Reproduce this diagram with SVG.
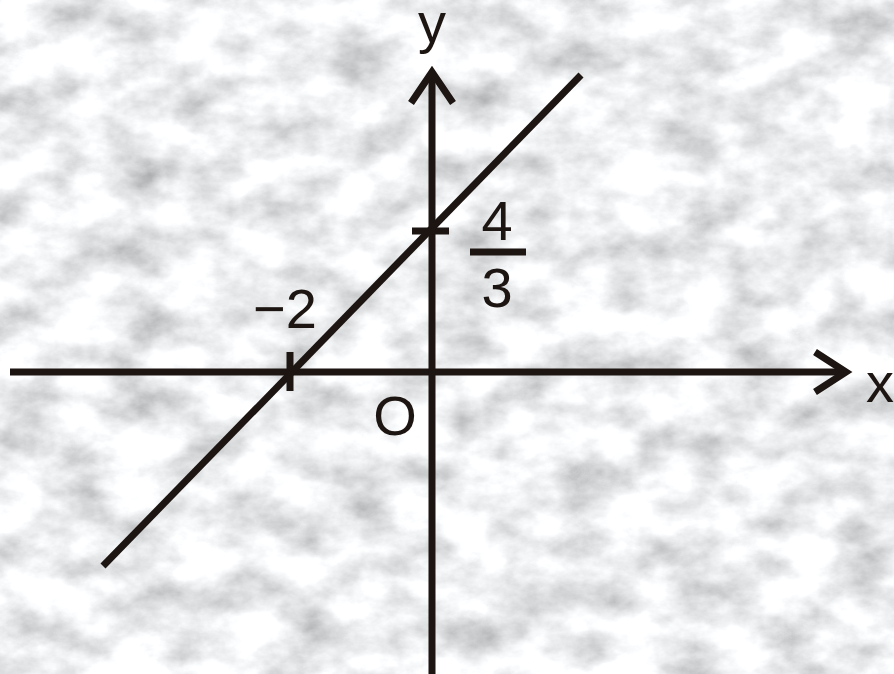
<svg xmlns="http://www.w3.org/2000/svg" width="894" height="674" viewBox="0 0 894 674">
<style>
.ax{stroke:#1c1512;stroke-width:7;fill:none}
.t{font-family:"Liberation Sans",Arial,sans-serif;font-size:56px;fill:#1c1512}
</style>
<defs>
<filter id="marble" x="0" y="0" width="100%" height="100%">
<feTurbulence type="fractalNoise" baseFrequency="0.018 0.026" numOctaves="6" seed="11" result="n"/>
<feColorMatrix in="n" type="matrix" values="1.0 0 0 0 0.36  1.0 0 0 0 0.37  1.0 0 0 0 0.38  0 0 0 0 1"/>
</filter>
</defs>
<rect id="background" x="0" y="0" width="894" height="674" fill="#d8d9da"/>
<rect x="0" y="0" width="894" height="674" filter="url(#marble)"/>
<g id="connectors">
<line id="x-axis" class="ax" x1="10" y1="372" x2="846" y2="372"/>
<polyline class="ax" points="815,352 846,372 815,392"/>
<line id="y-axis" class="ax" x1="432" y1="674" x2="432" y2="72"/>
<polyline class="ax" points="411,103 432,72 453,103"/>
<line id="graph-line" class="ax" x1="103" y1="566" x2="581" y2="75"/>
<line class="ax" stroke-width="8" x1="290" y1="352" x2="290" y2="391"/>
<line class="ax" stroke-width="8" x1="412" y1="231" x2="449" y2="231"/>
<line class="ax" stroke-width="9" x1="470" y1="252" x2="526" y2="252"/>
</g>
<g id="labels">
<text class="t" x="432" y="42" text-anchor="middle">y</text>
<text class="t" x="866" y="402">x</text>
<text class="t" x="395" y="435" text-anchor="middle">O</text>
<text class="t" x="285" y="328" text-anchor="middle" font-size="55">−2</text>
<text class="t" x="497" y="240" text-anchor="middle">4</text>
<text class="t" x="497" y="307" text-anchor="middle">3</text>
</g>
</svg>
